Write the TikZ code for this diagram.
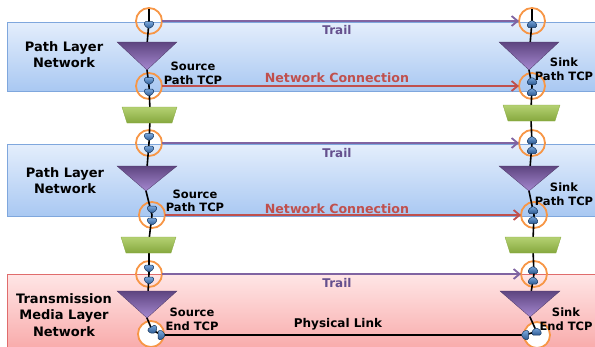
\documentclass[tikz,border=0pt]{standalone}
\usepackage{fontspec}
\setmainfont{DejaVu Sans}
\usetikzlibrary{arrows.meta}
\definecolor{bandblueT}{HTML}{E4EEFC}
\definecolor{bandblueB}{HTML}{A9C8F2}
\definecolor{bandblueD}{HTML}{7FA7DD}
\definecolor{bandpinkT}{HTML}{FFE6E6}
\definecolor{bandpinkB}{HTML}{F8A8A8}
\definecolor{bandpinkD}{HTML}{E06C6C}
\definecolor{trailc}{HTML}{8064A2}
\definecolor{trailtxt}{HTML}{65508E}
\definecolor{ncc}{HTML}{C0504D}
\definecolor{orangec}{HTML}{F79646}
\definecolor{triT}{HTML}{5E4580}
\definecolor{triB}{HTML}{A588D0}
\definecolor{grnT}{HTML}{B4D172}
\definecolor{grnB}{HTML}{86A83E}
\definecolor{mkT}{HTML}{7AA8DE}
\definecolor{mkB}{HTML}{2E5B93}
\definecolor{mkD}{HTML}{17375E}
\begin{document}
\begin{tikzpicture}[x=1pt,y=-1pt,
  tcp/.style={circle,draw=orangec,line width=1.8pt,minimum size=26pt,inner sep=0pt,outer sep=0pt},
  tcpw/.style={tcp,fill=white},
  bandb/.style={top color=bandblueT,bottom color=bandblueB,draw=bandblueD,line width=0.8pt},
  bandp/.style={top color=bandpinkT,bottom color=bandpinkB,draw=bandpinkD,line width=0.8pt},
  wire/.style={black,line width=1.6pt},
  trail/.style={trailc,line width=1.8pt,-{Straight Barb[length=6pt,width=10pt]}},
  ncon/.style={ncc,line width=1.8pt,-{Straight Barb[length=6pt,width=10pt]}},
  plink/.style={black,line width=1.8pt},
  tri/.style={top color=triT,bottom color=triB,draw=triT!80!black,line width=0.3pt},
  trap/.style={top color=grnT,bottom color=grnB,draw=grnB,line width=0.3pt},
  bandlbl/.style={font=\fontsize{13}{16.2}\selectfont\bfseries,align=center,inner sep=0pt},
  tcplbl/.style={font=\fontsize{11.5}{13.5}\selectfont\bfseries,align=center,inner sep=0pt},
  traillbl/.style={font=\fontsize{12}{14}\selectfont\bfseries,text=trailtxt,inner sep=0pt},
  nclbl/.style={font=\fontsize{12.6}{14}\selectfont\bfseries,text=ncc,inner sep=0pt},
  pllbl/.style={font=\fontsize{12}{14}\selectfont\bfseries,inner sep=0pt},
  mk/.pic={\shade[top color=mkT,bottom color=mkB,draw=mkD,line width=0.5pt,rounded corners=1.2pt]
     (-4.5,-3.5) -- (4.5,-3.5) -- (4.5,0.7) -- (0,3.8) -- (-4.5,0.7) -- cycle;}
]
\useasboundingbox (0,0) rectangle (595,346);
\clip (0,0) rectangle (595,346);
% bands
\path[bandb] (7,22) rectangle (605,91);
\path[bandb] (7,144) rectangle (605,216);
\path[bandp] (7,274) rectangle (605,352);
% TCP circles
\node[tcp] (L1) at (149,21) {};
\node[tcp] (L2) at (149,86) {};
\node[tcp] (L3) at (149,143) {};
\node[tcp] (L4) at (152,215) {};
\node[tcp] (L5) at (149,274) {};
\node[tcpw] (L6) at (151,334) {};
\node[tcp] (R1) at (532,21) {};
\node[tcp] (R2) at (532,86) {};
\node[tcp] (R3) at (532,143) {};
\node[tcp] (R4) at (534,215) {};
\node[tcp] (R5) at (534,274) {};
\node[tcpw] (R6) at (537,335) {};
% apex points
\coordinate (T1) at (147,70);
\coordinate (T2) at (146,191);
\coordinate (T3) at (147,318);
\coordinate (RT1) at (529,70);
\coordinate (RT2) at (529,191);
\coordinate (RT3) at (530,317);
\coordinate (P1) at (162,335);
\coordinate (P2) at (525,335);
% connections
\draw[trail] (L1) -- (R1);
\draw[ncon] (L2) -- (R2);
\draw[trail] (L3) -- (R3);
\draw[ncon] (L4) -- (R4);
\draw[trail] (L5) -- (R5);
\draw[plink] (P1) -- (P2);
% vertical wires
\draw[wire] (149,9) -- (L1.center) -- (147,45) -- (T1) -- (L2.center) -- (150,110) -- (150,120)
  -- (L3.center) -- (147,168) -- (T2) -- (L4.center) -- (149,240) -- (149,250)
  -- (L5.center) -- (148,293) -- (T3) -- (152,330) -- (P1);
\draw[wire] (532,9) -- (R1.center) -- (530,45) -- (RT1) -- (R2.center) -- (531,110) -- (531,120)
  -- (R3.center) -- (530,168) -- (RT2) -- (R4.center) -- (533,240) -- (533,250)
  -- (R5.center) -- (531,293) -- (RT3) -- (536.5,331.5) -- (P2);
% triangles
\path[tri] (117,42) -- (177,42) -- (T1) -- cycle;
\path[tri] (117,166) -- (177,166) -- (T2) -- cycle;
\path[tri] (117,291) -- (177,291) -- (T3) -- cycle;
\path[tri] (499,42) -- (559,42) -- (RT1) -- cycle;
\path[tri] (499,166) -- (559,166) -- (RT2) -- cycle;
\path[tri] (500,291) -- (560,291) -- (RT3) -- cycle;
% trapezoids
\path[trap] (122,107) -- (177,107) -- (172,123) -- (127,123) -- cycle;
\path[trap] (121,237) -- (176,237) -- (171,253) -- (126,253) -- cycle;
\path[trap] (503,105) -- (560,105) -- (555,121) -- (508,121) -- cycle;
\path[trap] (505,237) -- (561,237) -- (556,253) -- (510,253) -- cycle;
% markers left
\pic at (149,25) {mk};
\pic at (149,81) {mk};
\pic at (149,92.5) {mk};
\pic at (149,137) {mk};
\pic at (149,149.5) {mk};
\pic at (152,209.5) {mk};
\pic at (152,221.5) {mk};
\pic at (149,268.5) {mk};
\pic at (149,280.5) {mk};
\pic[rotate=30] at (153,330) {mk};
\pic[rotate=90] at (161.5,335) {mk};
% markers right
\pic[rotate=180] at (532,24) {mk};
\pic[rotate=180] at (532,81) {mk};
\pic[rotate=180] at (532,92) {mk};
\pic[rotate=180] at (532,140) {mk};
\pic[rotate=180] at (532,150) {mk};
\pic[rotate=180] at (533,210) {mk};
\pic[rotate=180] at (533,220) {mk};
\pic[rotate=180] at (533,270) {mk};
\pic[rotate=180] at (533,280.5) {mk};
\pic[rotate=-90] at (525,335) {mk};
\pic[rotate=180] at (536.5,331.5) {mk};
% labels
\node[bandlbl] (lb1) at (64,55) {Path Layer\\Network};
\node[bandlbl] (lb2) at (65,181) {Path Layer\\Network};
\node[bandlbl] (lb3) at (64,315) {Transmission\\Media Layer\\Network};
\node[tcplbl] (s1) at (193,73.5) {Source\\Path TCP};
\node[tcplbl] (s2) at (195,201) {Source\\Path TCP};
\node[tcplbl] (s3) at (192,319.5) {Source\\End TCP};
\node[tcplbl] (k1) at (564,69) {Sink\\Path TCP};
\node[tcplbl] (k2) at (564,194) {Sink\\Path TCP};
\node[tcplbl] (k3) at (566,319) {Sink\\End TCP};
\node[traillbl] (t1) at (337,30) {Trail};
\node[traillbl] (t2) at (337,153.5) {Trail};
\node[traillbl] (t3) at (337,283.5) {Trail};
\node[nclbl] (c1) at (337,77.5) {Network Connection};
\node[nclbl] (c2) at (337,208.5) {Network Connection};
\node[pllbl] (pl) at (338,324.5) {Physical Link};
\end{tikzpicture}
\end{document}
